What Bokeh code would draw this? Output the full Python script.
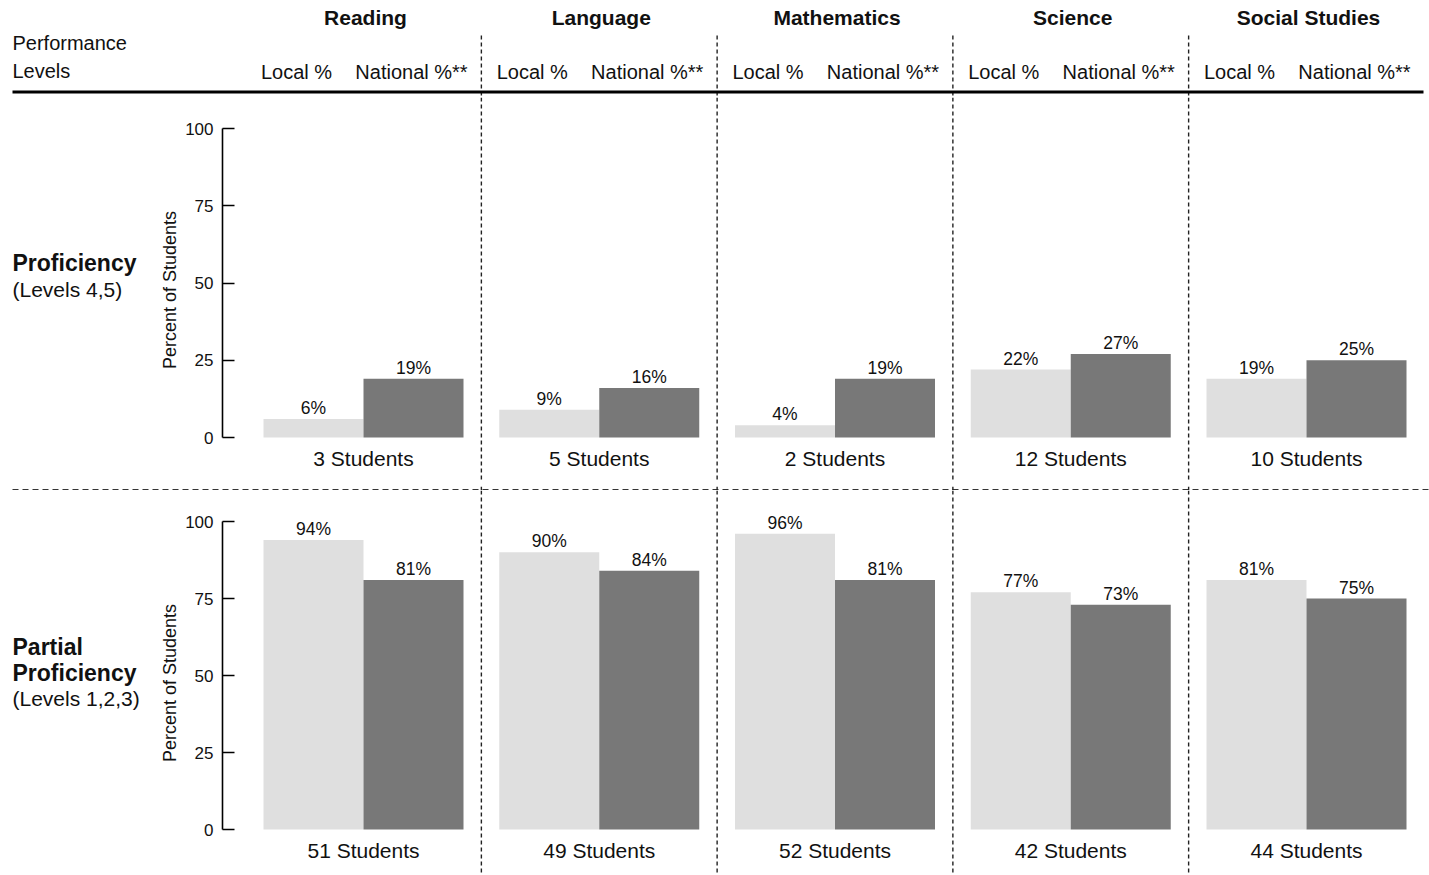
import numpy as np
from bokeh.plotting import figure
from bokeh.layouts import column, row
from bokeh.models import Range1d, FixedTicker, Span
from bokeh.core.properties import value
from bokeh.embed import file_html
from bokeh.resources import INLINE

# ---------------- data ----------------
subjects = ["Reading", "Language", "Mathematics", "Science", "Social Studies"]
series_names = ["Local %", "National %**"]
prof_local = [6, 9, 4, 22, 19]
prof_national = [19, 16, 19, 27, 25]
prof_students = [3, 5, 2, 12, 10]
partial_local = [94, 90, 96, 77, 81]
partial_national = [81, 84, 81, 73, 75]
partial_students = [51, 49, 52, 42, 44]
y_ticks = [0, 25, 50, 75, 100]
corner_title = ["Performance", "Levels"]
row1_titles = ["Proficiency"]
row1_sub = "(Levels 4,5)"
row2_titles = ["Partial", "Proficiency"]
row2_sub = "(Levels 1,2,3)"
axis_title = "Percent of Students"

# ---------------- layout / style ----------------
W, H = 1429, 875
HEADER_H = 97
ROW1 = (97, 482)
SEP = (482, 490)
ROW2 = (490, 875)
LAB_W = 150
FRAME_LEFT = 222
GROUP0 = 363
STEP = 235.75
BAR_W = 100
FONT = "Liberation Sans"
LOCAL_C = "#dfdfdf"
NAT_C = "#787878"
TXT = "#111111"
DIV_C = "#222222"

centers = GROUP0 + STEP * np.arange(len(subjects))
dividers = centers[:-1] + STEP / 2


def base_fig(w, h, xr, yr, **kw):
    p = figure(width=w, height=h, x_range=xr, y_range=yr,
               x_axis_location=None, toolbar_location=None,
               output_backend="svg", min_border=0,
               min_border_left=0, min_border_right=0,
               min_border_top=0, min_border_bottom=0, **kw)
    p.outline_line_color = None
    p.background_fill_color = "white"
    p.border_fill_color = "white"
    p.grid.visible = False
    return p


def txt(p, x, y, t, size, style="normal", align="left", baseline="middle", **kw):
    p.text(x=x, y=y, text=t, text_font=value(FONT), text_font_size=size,
           text_font_style=style, text_align=align, text_baseline=baseline,
           text_color=TXT, **kw)


# ---------------- header ----------------
hdr = base_fig(W, HEADER_H, Range1d(0, W), Range1d(HEADER_H, 0), y_axis_location=None)
txt(hdr, list(centers + 2), [17] * 5, subjects, "21px", style="bold", align="center")
txt(hdr, [12, 12], [42, 70], corner_title, "20px")
txt(hdr, list(centers - 67), [71] * 5, [series_names[0]] * 5, "20px", align="center")
txt(hdr, list(centers + 48), [71] * 5, [series_names[1]] * 5, "20px", align="center")
hdr.segment(x0=list(dividers), y0=[35] * 4, x1=list(dividers), y1=[HEADER_H] * 4,
            line_color=DIV_C, line_width=1.4, line_dash="4 3")
hdr.segment(x0=[12], y0=[91.5], x1=[1423], y1=[91.5], line_color="black", line_width=3)


# ---------------- rows ----------------
def make_row(top_px, bottom_px, zero_px, hundred_px, local, national, students):
    h = bottom_px - top_px
    scale = (zero_px - hundred_px) / 100.0
    yr = Range1d((zero_px - bottom_px) / scale, (zero_px - top_px) / scale)
    p = base_fig(W - LAB_W, h, Range1d(FRAME_LEFT, W), yr, y_axis_location="left")
    p.min_border_left = FRAME_LEFT - LAB_W
    p.vbar(x=list(centers - BAR_W / 2), top=local, bottom=0, width=BAR_W,
           fill_color=LOCAL_C, line_color=None)
    p.vbar(x=list(centers + BAR_W / 2), top=national, bottom=0, width=BAR_W,
           fill_color=NAT_C, line_color=None)
    txt(p, list(centers - BAR_W / 2), local, [f"{v}%" for v in local], "17.5px",
        align="center", baseline="bottom", y_offset=-1)
    txt(p, list(centers + BAR_W / 2), national, [f"{v}%" for v in national], "17.5px",
        align="center", baseline="bottom", y_offset=-1)
    txt(p, list(centers), [0] * 5, [f"{n} Students" for n in students], "21px",
        align="center", y_offset=21)
    for d in dividers:
        p.add_layout(Span(location=d, dimension="height", line_color=DIV_C,
                          line_width=1.4, line_dash="4 3"))
    ax = p.yaxis[0]
    ax.ticker = FixedTicker(ticks=y_ticks)
    ax.bounds = (0, 100)
    ax.major_tick_in = 12
    ax.major_tick_out = 0
    ax.minor_tick_line_color = None
    ax.axis_line_width = 1.6
    ax.major_tick_line_width = 1.6
    ax.axis_line_color = "black"
    ax.major_label_text_font = FONT
    ax.major_label_text_font_size = "17px"
    ax.major_label_text_color = TXT
    ax.major_label_standoff = 9
    ax.axis_label = axis_title
    ax.axis_label_text_font = FONT
    ax.axis_label_text_font_size = "18px"
    ax.axis_label_text_font_style = "normal"
    ax.axis_label_text_color = TXT
    ax.axis_label_standoff = 2

    lab = base_fig(LAB_W, h, Range1d(0, LAB_W), Range1d(bottom_px, top_px), y_axis_location=None)
    return p, lab


p1, lab1 = make_row(ROW1[0], ROW1[1], 437, 128, prof_local, prof_national, prof_students)
txt(lab1, [12], [262], row1_titles, "23px", style="bold")
txt(lab1, [12], [289], [row1_sub], "21px")

p2, lab2 = make_row(ROW2[0], ROW2[1], 829, 521, partial_local, partial_national, partial_students)
txt(lab2, [12, 12], [646, 672], row2_titles, "23px", style="bold")
txt(lab2, [12], [698], [row2_sub], "21px")

# ---------------- separator ----------------
sep = base_fig(W, SEP[1] - SEP[0], Range1d(0, W), Range1d(SEP[1], SEP[0]), y_axis_location=None)
sep.segment(x0=[12], y0=[485.5], x1=[W], y1=[485.5], line_color="#333333",
            line_width=1.8, line_dash="6 4")
sep.segment(x0=list(dividers), y0=[SEP[0]] * 4, x1=list(dividers), y1=[SEP[1]] * 4,
            line_color=DIV_C, line_width=1.4, line_dash="4 3")

layout = column(hdr, row(lab1, p1), sep, row(lab2, p2))
open("out.html", "w").write(file_html(layout, INLINE))
